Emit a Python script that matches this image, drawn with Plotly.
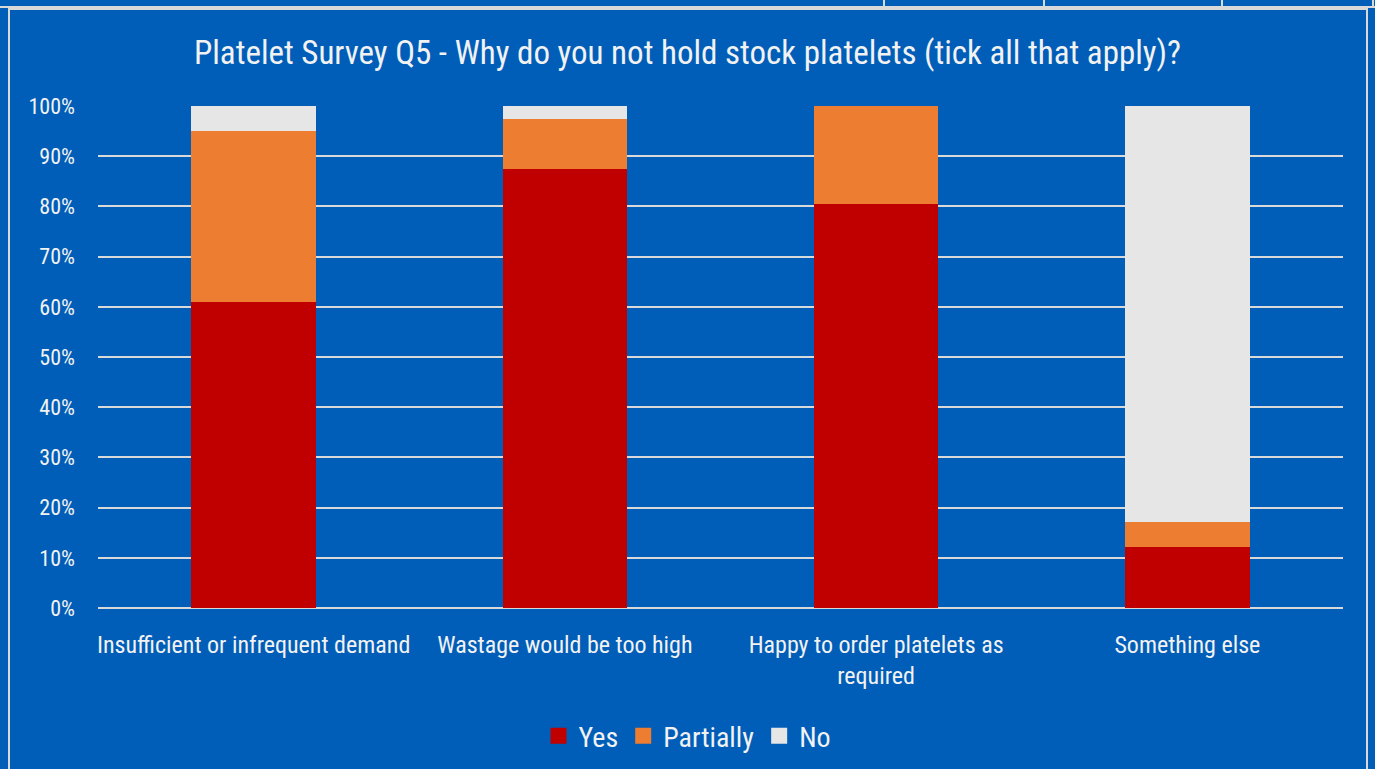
import plotly.graph_objects as go

categories = ["Insufficient or infrequent demand", "Wastage would be too high",
              "Happy to order platelets as<br>required", "Something else"]
yes_vals = [0.61, 0.875, 0.805, 0.122]
partially_vals = [0.34, 0.10, 0.195, 0.049]
no_vals = [0.05, 0.025, 0.0, 0.829]
tick_vals = [0, 0.1, 0.2, 0.3, 0.4, 0.5, 0.6, 0.7, 0.8, 0.9, 1.0]
tick_text = ["0%", "10%", "20%", "30%", "40%", "50%", "60%", "70%", "80%", "90%", "100%"]

BG = "#005EB8"
TXT = "#F2F2F2"
GRID = "#D9D9D9"
FONT = "Liberation Sans Narrow, Arial Narrow, Roboto Condensed, Roboto, sans-serif"

series = [("Yes", yes_vals, "#C00000"),
          ("Partially", partially_vals, "#ED7D31"),
          ("No", no_vals, "#E7E6E6")]

fig = go.Figure()
for name, vals, col in series:
    fig.add_trace(go.Bar(x=categories, y=vals, name=name, marker_color=col,
                         marker_line_width=0, width=0.4, showlegend=False))
for name, vals, col in series:
    fig.add_trace(go.Scatter(x=[None], y=[None], name=name, mode="markers",
                             marker=dict(symbol="square", size=17, color=col),
                             showlegend=True))

W, H = 1375, 769
fig.update_layout(
    width=W, height=H, barmode="stack",
    paper_bgcolor=BG, plot_bgcolor=BG,
    margin=dict(l=0, r=0, t=0, b=0, autoexpand=False),
    font=dict(family=FONT, color=TXT, size=20),
    title=dict(text="Platelet Survey Q5 - Why do you not hold stock platelets (tick all that apply)?",
               x=0.5, xanchor="center", y=1 - 52 / H, yanchor="middle",
               font=dict(size=33, color=TXT, family=FONT)),
    xaxis=dict(domain=[98 / W, 1343 / W], showgrid=False, showline=False,
               automargin=False, categoryorder="array", categoryarray=categories,
               tickfont=dict(size=24, color=TXT), ticks="", ticklabelstandoff=20),
    yaxis=dict(domain=[(H - 608) / H, (H - 106) / H], range=[0, 1],
               automargin=False,
               tickvals=tick_vals, ticktext=tick_text, showgrid=True,
               gridcolor=GRID, gridwidth=2, zeroline=True, zerolinecolor=GRID,
               zerolinewidth=2, showline=False, ticks="",
               tickfont=dict(size=22, color=TXT), ticklabelstandoff=22),
    legend=dict(orientation="h", x=0.5, xanchor="center", y=1 - 736 / H,
                yanchor="middle", font=dict(size=28, color=TXT),
                bgcolor="rgba(0,0,0,0)", traceorder="normal"),
)

shapes = []
def line(x0, y0, x1, y1):
    shapes.append(dict(type="line", xref="paper", yref="paper",
                       x0=x0 / W, x1=x1 / W, y0=1 - y0 / H, y1=1 - y1 / H,
                       line=dict(color=GRID, width=2)))
line(9, 8, 9, H)
line(1367, 8, 1367, H)
line(0, 7, W, 7)
line(9, 9, 1367, 9)
for xv in [884, 1044, 1222]:
    line(xv, 0, xv, 7)
line(1373, 0, 1373, 7)
fig.update_layout(shapes=shapes)

fig.write_html("out.html")
